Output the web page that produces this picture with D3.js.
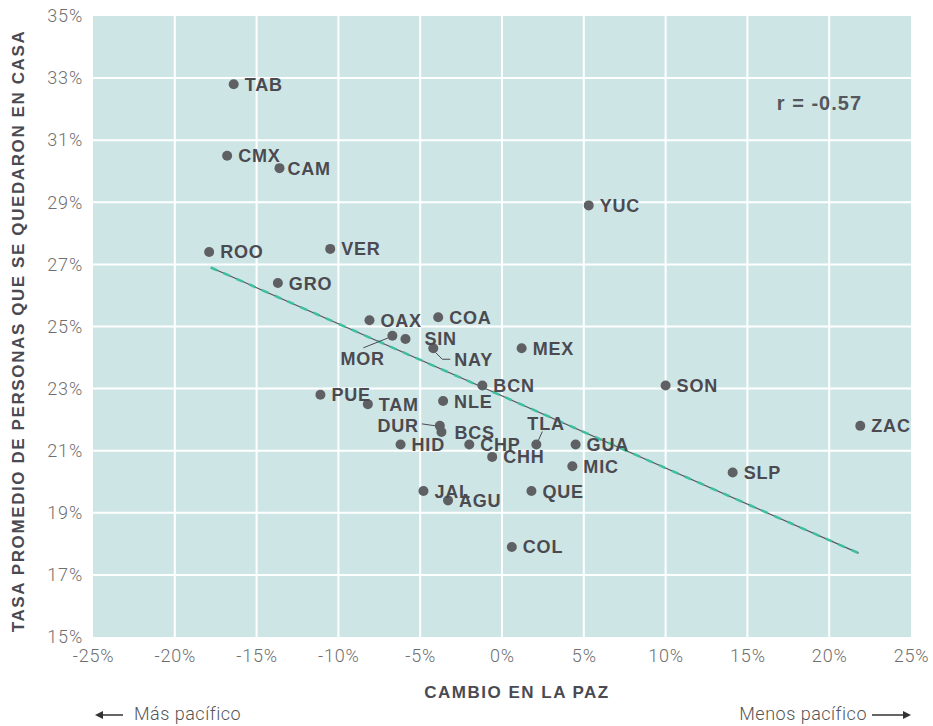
<!DOCTYPE html>
<html lang="es">
<head>
	<meta charset="utf-8">
	<title>Cambio en la paz vs. personas en casa</title>
	<script src="https://cdn.jsdelivr.net/npm/d3@7/dist/d3.min.js"></script>
</head>
<style>
	body { margin: 0; background: #fff; }
	svg { font-family: "Liberation Sans", Arial, sans-serif; }
	.tick text { font-family: Roboto, "Liberation Sans", sans-serif; font-weight: 300; fill: #6f6f6f; font-size: 18px; letter-spacing: 0.8px; }
	.lbl { font-weight: bold; font-size: 18px; letter-spacing: 0.8px; fill: #4a4a50; }
	.leader { stroke: #4a4a50; stroke-width: 1; fill: none; }
	.note { font-family: Roboto, sans-serif; font-weight: 300; font-size: 18px; fill: #555; letter-spacing: 0.5px; }
</style>
<body>
<svg id="chart" width="933" height="726"></svg>
<script type="text/javascript">

	// estados (abreviatura), cambio en la paz (%), tasa promedio en casa (%)
	var states = ['TAB','CMX','CAM','YUC','ROO','VER','GRO','OAX','COA','MOR','SIN','NAY','MEX','BCN','PUE','TAM','NLE','DUR','BCS','HID','CHP','CHH','TLA','GUA','MIC','JAL','AGU','QUE','COL','SON','SLP','ZAC'];
	var peaceChange = [-16.4,-16.8,-13.6,5.3,-17.9,-10.5,-13.7,-8.1,-3.9,-6.7,-5.9,-4.2,1.2,-1.2,-11.1,-8.2,-3.6,-3.8,-3.7,-6.2,-2.0,-0.6,2.1,4.5,4.3,-4.8,-3.3,1.8,0.6,10.0,14.1,21.9];
	var stayHome = [32.8,30.5,30.1,28.9,27.4,27.5,26.4,25.2,25.3,24.7,24.6,24.3,24.3,23.1,22.8,22.5,22.6,21.8,21.6,21.2,21.2,20.8,21.2,21.2,20.5,19.7,19.4,19.7,17.9,23.1,20.3,21.8];

	var xTicks = [-25,-20,-15,-10,-5,0,5,10,15,20,25];
	var yTicks = [15,17,19,21,23,25,27,29,31,33,35];

	// recta de tendencia (extremos)
	var trendX = [-17.8, 21.8];
	var trendY = [26.9, 17.7];
	var rText = 'r = -0.57';

	// ajustes de etiqueta: desplazamiento del texto respecto al punto
	var labelPos = {
		CAM: {dx: 8, dy: 0}, SIN: {dx: 19, dy: 0}, BCS: {dx: 13, dy: 0},
		MOR: {dx: -52, dy: 23, anchor: 'start', line: [[-4, 2], [-29, 12]]},
		NAY: {dx: 21, dy: 11, line: [[2, 4], [9, 11], [17, 11]]},
		DUR: {dx: -21, dy: 0, anchor: 'end', line: [[-4, 0], [-18, -2]]},
		TLA: {dx: -9, dy: -21, line: [[2, -4], [6, -13]]}
	};

	var svg = d3.select('#chart'),
		margin = {top: 16, right: 22, bottom: 89, left: 93},
		width = +svg.attr('width') - margin.left - margin.right,
		height = +svg.attr('height') - margin.top - margin.bottom;

	var x = d3.scaleLinear().domain([-25, 25]).range([0, width]),
		y = d3.scaleLinear().domain([15, 35]).range([height, 0]);

	var g = svg.append('g')
		.attr('transform', 'translate(' + margin.left + ',' + margin.top + ')');

	g.append('rect')
		.attr('width', width)
		.attr('height', height)
		.attr('fill', '#cee5e5');

	// rejilla
	g.append('g').selectAll('line.gx')
		.data(xTicks.slice(1, -1))
		.enter().append('line')
		.attr('x1', function(d) { return x(d); })
		.attr('x2', function(d) { return x(d); })
		.attr('y1', 0).attr('y2', height)
		.attr('stroke', '#fff').attr('stroke-width', 2);

	g.append('g').selectAll('line.gy')
		.data(yTicks.slice(1, -1))
		.enter().append('line')
		.attr('y1', function(d) { return y(d); })
		.attr('y2', function(d) { return y(d); })
		.attr('x1', 0).attr('x2', width)
		.attr('stroke', '#fff').attr('stroke-width', 2);

	// ejes
	var xAxis = g.append('g')
		.attr('transform', 'translate(0,' + height + ')')
		.call(d3.axisBottom(x).tickValues(xTicks).tickSize(0).tickPadding(12)
			.tickFormat(function(d) { return d + '%'; }));
	xAxis.select('.domain').remove();

	var yAxis = g.append('g')
		.call(d3.axisLeft(y).tickValues(yTicks).tickSize(0).tickPadding(10)
			.tickFormat(function(d) { return d + '%'; }));
	yAxis.select('.domain').remove();

	// tendencia
	var trend = d3.line()
		.x(function(d, i) { return x(trendX[i]); })
		.y(function(d, i) { return y(trendY[i]); });

	g.append('path')
		.datum(trendX)
		.attr('d', trend)
		.attr('stroke', '#55575c').attr('stroke-width', 1.2).attr('fill', 'none');
	g.append('path')
		.datum(trendX)
		.attr('d', trend)
		.attr('stroke', '#3dbfa0').attr('stroke-width', 2.5)
		.attr('stroke-dasharray', '7,7').attr('fill', 'none');

	var data = states.map(function(s, i) {
		return {name: s, x: peaceChange[i], y: stayHome[i]};
	});

	// líneas guía
	data.forEach(function(d) {
		var p = labelPos[d.name];
		if (p && p.line) {
			g.append('path')
				.attr('class', 'leader')
				.attr('d', d3.line()(p.line.map(function(q) { return [x(d.x) + q[0], y(d.y) + q[1]]; })));
		}
	});

	g.selectAll('.dot')
		.data(data)
		.enter().append('circle')
		.attr('class', 'dot')
		.attr('cx', function(d) { return x(d.x); })
		.attr('cy', function(d) { return y(d.y); })
		.attr('r', 5)
		.attr('fill', '#5f6063');

	g.selectAll('.lbl')
		.data(data)
		.enter().append('text')
		.attr('class', 'lbl')
		.attr('x', function(d) { var p = labelPos[d.name]; return x(d.x) + (p ? p.dx : 11); })
		.attr('y', function(d) { var p = labelPos[d.name]; return y(d.y) + (p ? p.dy : 0); })
		.attr('dy', '0.36em')
		.attr('text-anchor', function(d) { var p = labelPos[d.name]; return p && p.anchor ? p.anchor : 'start'; })
		.text(function(d) { return d.name; });

	g.append('text')
		.attr('x', x(16.8)).attr('y', y(32.2))
		.attr('dy', '0.36em')
		.attr('font-weight', 'bold').attr('font-size', 20).attr('letter-spacing', 1).attr('fill', '#55575e')
		.text(rText);

	// títulos
	svg.append('text')
		.attr('x', 517).attr('y', 698)
		.attr('text-anchor', 'middle')
		.attr('font-weight', 'bold').attr('font-size', 17).attr('letter-spacing', 1.5).attr('fill', '#4a4a52')
		.text('CAMBIO EN LA PAZ');

	svg.append('text')
		.attr('transform', 'translate(24,331) rotate(-90)')
		.attr('text-anchor', 'middle')
		.attr('font-weight', 'bold').attr('font-size', 17).attr('letter-spacing', 1.6).attr('fill', '#4a4a52')
		.text('TASA PROMEDIO DE PERSONAS QUE SE QUEDARON EN CASA');

	// flechas de dirección
	var arrows = svg.append('g').attr('stroke', '#333').attr('stroke-width', 1.5).attr('fill', '#333');
	arrows.append('line').attr('x1', 97).attr('x2', 123).attr('y1', 715).attr('y2', 715);
	arrows.append('path').attr('d', 'M95,715 L103,711 L103,719 Z').attr('stroke', 'none');
	arrows.append('line').attr('x1', 872).attr('x2', 908).attr('y1', 715).attr('y2', 715);
	arrows.append('path').attr('d', 'M911,715 L903,711 L903,719 Z').attr('stroke', 'none');

	svg.append('text')
		.attr('class', 'note')
		.attr('x', 134).attr('y', 720)
		.text('Más pacífico');

	svg.append('text')
		.attr('class', 'note')
		.attr('x', 867).attr('y', 720)
		.attr('text-anchor', 'end')
		.text('Menos pacífico');
</script>
</body>
</html>
